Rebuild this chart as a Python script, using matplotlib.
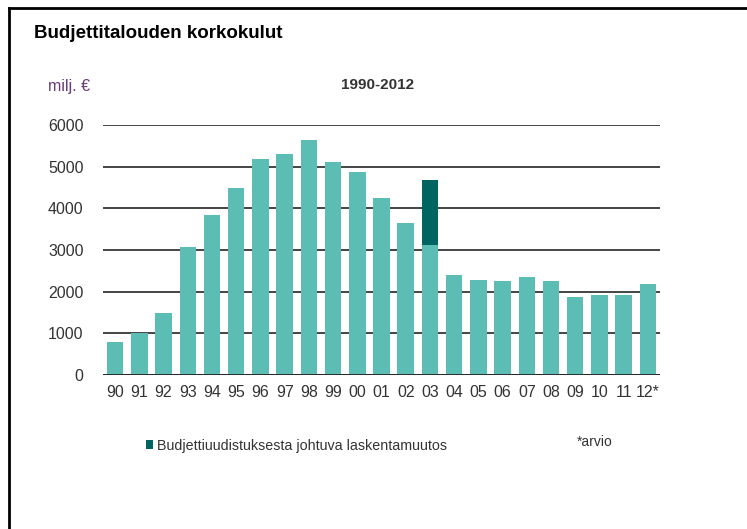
import matplotlib.pyplot as plt
from matplotlib.lines import Line2D

plt.rcParams['font.family'] = ['Liberation Sans', 'DejaVu Sans']

vuodet = ['90', '91', '92', '93', '94', '95', '96', '97', '98', '99', '00', '01',
          '02', '03', '04', '05', '06', '07', '08', '09', '10', '11', '12*']
korkokulut = [800, 1000, 1500, 3080, 3840, 4500, 5190, 5300, 5630, 5110, 4870, 4260,
              3640, 3125, 2400, 2290, 2250, 2360, 2250, 1880, 1910, 1910, 2180]
muutos = [0, 0, 0, 0, 0, 0, 0, 0, 0, 0, 0, 0,
          0, 1550, 0, 0, 0, 0, 0, 0, 0, 0, 0]

vaalea = '#5bbdb4'
tumma = '#006460'

fig = plt.figure(figsize=(7.47, 5.29), dpi=100)
ax = fig.add_axes([103 / 747, 1 - 375 / 529, 557 / 747, 250 / 529])

x = range(len(vuodet))
ax.bar(x, korkokulut, width=0.68, color=vaalea, zorder=3)
b2 = ax.bar(x, muutos, width=0.68, bottom=korkokulut, color=tumma, zorder=3)

ax.set_xlim(-0.5, len(vuodet) - 0.5)
ax.set_ylim(0, 6000)
ax.set_yticks(range(0, 6001, 1000))
ax.yaxis.grid(True, color='#444444', linewidth=1.4, zorder=1)
ax.axhline(0, color='#222222', linewidth=2, zorder=4)
for s in ax.spines.values():
    s.set_visible(False)
ax.tick_params(length=0, labelsize=11.5, colors='#333333')
ax.tick_params(axis='y', pad=14)
ax.tick_params(axis='x', pad=7)
ax.set_xticks(list(x))
ax.set_xticklabels(vuodet)

fig.text(34 / 747, 1 - 33 / 529, 'Budjettitalouden korkokulut', fontsize=13.5,
         fontweight='bold', va='center', ha='left', color='black')
fig.text(378 / 747, 1 - 85 / 529, '1990-2012', fontsize=11, fontweight='bold',
         va='center', ha='center', color='#333333')
fig.text(48 / 747, 1 - 87 / 529, 'milj. €', fontsize=11.5, va='center', ha='left',
         color='#6a3a78')

ax.legend([b2], ['Budjettiuudistuksesta johtuva laskentamuutos'],
          bbox_to_anchor=(146 / 747, 1 - 446 / 529), bbox_transform=fig.transFigure,
          loc='center left', frameon=False, fontsize=10.3, handlelength=0.5,
          handleheight=0.6, handletextpad=0.3, borderaxespad=0, borderpad=0,
          labelcolor='#333333')
fig.text(577 / 747, 1 - 442 / 529, '*arvio', fontsize=10, va='center', ha='left',
         color='#333333')

fig.add_artist(Line2D([9 / 747, 1], [1 - 8 / 529, 1 - 8 / 529], color='black',
                      linewidth=2, transform=fig.transFigure))
fig.add_artist(Line2D([9 / 747, 9 / 747], [0, 1 - 8 / 529], color='black',
                      linewidth=2, transform=fig.transFigure))

fig.savefig('out.png', dpi=100)
